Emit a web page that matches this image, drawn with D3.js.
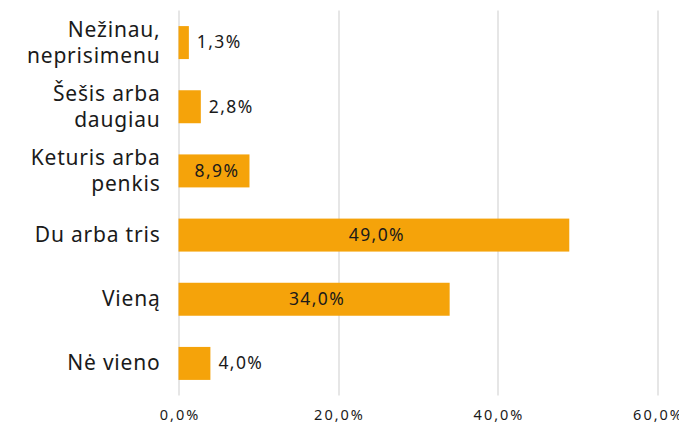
<!DOCTYPE html>
<html>
<head>
<meta charset="utf-8">
<script src="https://cdn.jsdelivr.net/npm/d3@7"></script>
<style>
  body { margin: 0; background: #fff; }
  text { font-family: "Noto Sans", sans-serif; fill: #1a1a1a; }
</style>
</head>
<body>
<div id="chart"></div>
<script>
// categories from top to bottom, values in %
var categories = [["Nežinau,", "neprisimenu"], ["Šešis arba", "daugiau"], ["Keturis arba", "penkis"], ["Du arba tris"], ["Vieną"], ["Nė vieno"]];
var values = [1.3, 2.8, 8.9, 49.0, 34.0, 4.0];
var xTicks = [0, 20, 40, 60];

var W = 679, H = 422;
var margin = { top: 10.5, right: 22, bottom: 26.5, left: 178.5 },
    width = W - margin.left - margin.right,
    height = H - margin.top - margin.bottom;

var fmt = function (v) { return v.toFixed(1).replace(".", ",") + "%"; };

var svg = d3.select("#chart").append("svg")
    .attr("width", W)
    .attr("height", H)
    .append("g")
    .attr("transform", "translate(" + margin.left + "," + margin.top + ")");

var xScale = d3.scaleLinear().domain([0, 60]).range([0, width]);
var yScale = d3.scaleBand().domain(d3.range(values.length)).range([0, height]).paddingInner(0.486).paddingOuter(0.243);

// gridlines
svg.append("g")
    .selectAll("line")
    .data(xTicks)
    .enter().append("line")
    .attr("x1", function (d) { return Math.round(xScale(d)) + 0.5; })
    .attr("x2", function (d) { return Math.round(xScale(d)) + 0.5; })
    .attr("y1", 0)
    .attr("y2", height)
    .style("stroke", "#d9d9d9")
    .style("stroke-width", 1.3);

// x axis labels
var xAxis = d3.axisBottom(xScale).tickValues(xTicks).tickSize(0).tickFormat(fmt);
var ax = svg.append("g")
    .attr("transform", "translate(0," + height + ")")
    .call(xAxis);
ax.select(".domain").remove();
ax.selectAll("text")
    .attr("y", 24.5)
    .attr("dy", 0)
    .attr("dx", 1)
    .style("font-family", "Noto Sans, sans-serif")
    .style("font-size", "14.5px")
    .style("letter-spacing", "2px")
    .style("fill", "#1a1a1a");

// bars
svg.append("g")
    .selectAll("rect")
    .data(values)
    .enter().append("rect")
    .attr("x", xScale(0))
    .attr("y", function (d, i) { return yScale(i); })
    .attr("width", function (d) { return xScale(d) - xScale(0); })
    .attr("height", yScale.bandwidth())
    .style("fill", "#F5A30A");

// value labels: inside (centered) for wide bars, outside for short ones
svg.append("g")
    .selectAll("text")
    .data(values)
    .enter().append("text")
    .attr("x", function (d) { return d > 6 ? xScale(d) / 2 + 3 : xScale(d) + 8; })
    .attr("y", function (d, i) { return yScale(i) + yScale.bandwidth() / 2; })
    .attr("dy", "0.33em")
    .attr("text-anchor", function (d) { return d > 6 ? "middle" : "start"; })
    .style("font-size", "17.5px")
    .style("letter-spacing", "1.4px")
    .text(fmt);

// category labels
var labels = svg.append("g")
    .selectAll("text")
    .data(categories)
    .enter().append("text")
    .attr("text-anchor", "end")
    .attr("x", -19)
    .attr("y", function (d, i) { return yScale(i) + yScale.bandwidth() / 2; })
    .style("font-size", "21px")
    .style("letter-spacing", "0.8px");

labels.selectAll("tspan")
    .data(function (d) { return d.map(function (t, j) { return { t: t, j: j, n: d.length }; }); })
    .enter().append("tspan")
    .attr("x", -18)
    .attr("dy", function (d) { return d.j === 0 ? (d.n > 1 ? "-0.28em" : "0.33em") : "1.24em"; })
    .text(function (d) { return d.t; });
</script>
</body>
</html>
